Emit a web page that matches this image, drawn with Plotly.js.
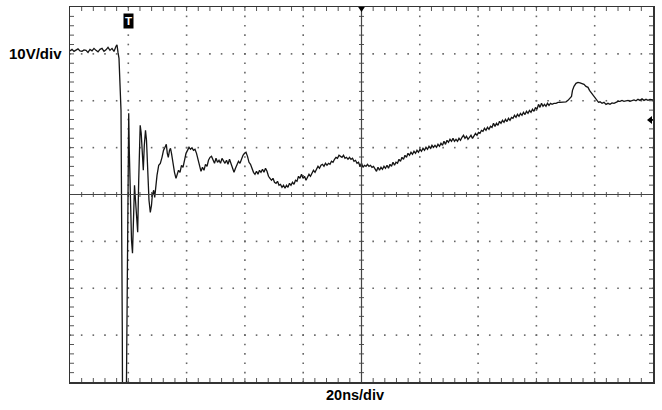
<!DOCTYPE html>
<html><head><meta charset="utf-8">
<script src="https://cdn.plot.ly/plotly-3.0.1.min.js"></script>
<style>html,body{margin:0;padding:0;background:#fff}#chart{width:662px;height:410px}</style>
</head><body><div id="chart"></div>
<script>
// Oscilloscope trace: time in ns, voltage in V
const preT = [0, 0.69, 1.37, 2.06, 2.74, 3.43, 4.12, 4.80, 5.49, 6.17, 6.86, 7.55, 8.23, 8.92, 9.61, 10.29, 10.98, 11.66, 12.35, 13.04, 13.72, 14.41, 15.09, 15.78, 16.12, 16.47, 16.81];
const preV = [30.64, 30.96, 30.53, 30.75, 31.07, 30.64, 30.53, 30.85, 30.75, 30.32, 30.96, 30.64, 31.17, 30.75, 30.43, 30.96, 31.17, 30.53, 30.85, 31.39, 30.75, 31.17, 30.53, 31.60, 31.92, 30.32, 29.04];

const ringT = [17.50, 17.67, 17.94, 18.11, 19.04, 19.38, 19.66, 19.97, 20.14, 20.34, 20.69, 21.10, 21.44, 21.72, 22.13, 22.47, 22.88, 23.22, 23.57, 23.84, 24.08, 24.43, 24.80, 25.15, 25.49, 25.90, 26.24, 26.66, 27.10, 27.55, 27.96, 28.23, 28.71, 29.06, 29.33, 29.85, 30.43, 30.98, 31.56, 32.08, 32.59, 33.04, 33.38, 33.72, 34.13, 34.48, 34.82, 35.33, 35.85, 36.36, 36.81, 37.22, 37.74, 38.25, 38.77, 39.28, 39.80];
const ringV = [17.95, 3.03, -28.96, -60.9, -60.9, -39.6, -11.9, 11.56, 17.31, 9.42, -3.37, -9.77, -12.54, -4.43, 1.96, -1.24, -6.57, -8.06, 3.03, 11.56, 14.75, 13.05, 9.42, 5.16, 10.49, 13.69, 11.56, 4.09, -1.24, -3.80, -2.30, -0.17, 0.90, -0.60, 1.75, 4.09, 6.23, 6.65, 7.93, 9.42, 10.06, 10.70, 8.78, 7.93, 9.42, 9.85, 8.78, 6.65, 4.73, 3.45, 4.31, 5.16, 4.73, 6.23, 5.80, 7.29, 8.78];

const settleT = [40.31, 40.83, 41.34, 41.85, 42.37, 42.88, 43.40, 43.91, 44.43, 44.94, 45.45, 45.97, 46.48, 47.00, 47.51, 48.03, 48.54, 49.06, 49.57, 50.09, 50.60, 51.11, 51.63, 52.14, 52.66, 53.17, 53.69, 54.20, 54.72, 55.23, 55.75, 56.26, 56.77, 57.29, 57.80, 58.32, 58.83, 59.35, 59.86, 60.38, 60.89, 61.41, 61.92, 62.44, 62.95, 63.46, 63.98, 64.49, 65.01, 65.52, 66.04, 66.55, 67.07, 67.58, 68.10, 68.61, 69.12, 69.64, 70.15, 70.67, 71.18, 71.70, 72.21, 72.73, 73.24, 73.76, 74.27, 74.78, 75.30, 75.81, 76.33, 76.84, 77.36, 77.87, 78.39, 78.90, 79.42];
const settleV = [9.42, 10.06, 9.64, 9.96, 9.42, 9.64, 8.78, 7.29, 6.01, 4.95, 5.80, 5.16, 6.44, 6.01, 7.29, 7.93, 8.14, 7.29, 6.65, 7.72, 6.87, 7.29, 6.65, 7.72, 7.08, 6.65, 7.29, 6.44, 7.51, 6.65, 5.80, 4.73, 5.59, 6.23, 7.08, 6.65, 7.72, 8.36, 8.78, 9.00, 8.14, 6.87, 6.44, 5.37, 4.73, 4.31, 4.95, 4.31, 5.16, 4.73, 5.37, 4.73, 5.59, 4.95, 3.88, 3.45, 3.03, 3.45, 2.60, 2.39, 2.81, 1.96, 2.17, 1.54, 1.96, 1.32, 1.96, 1.54, 2.39, 1.96, 2.60, 2.17, 3.03, 2.81, 3.88, 3.45, 4.31];

const rampT1 = [79.93, 80.45, 80.96, 81.47, 81.99, 82.50, 83.02, 83.53, 84.05, 84.56, 85.08, 85.59, 86.11, 86.62, 87.13, 87.65, 88.16, 88.68, 89.19, 89.71, 90.22, 90.74, 91.25, 91.77, 92.28, 92.80, 93.31, 93.82, 94.34, 94.85, 95.37, 95.88, 96.40, 96.91, 97.43, 97.94, 98.46, 98.97, 99.48, 100.00, 100.51, 101.03, 101.54, 102.06, 102.57, 103.09, 103.60, 104.12, 104.63, 105.15, 105.66, 106.17, 106.69, 107.20, 107.72, 108.23, 108.75, 109.26, 109.78, 110.29, 110.81, 111.32, 111.83, 112.35, 112.86, 113.38, 113.89, 114.41, 114.92, 115.44, 115.95, 116.47, 116.98, 117.49, 118.01, 118.52, 119.04, 119.55, 120.07, 120.58, 121.10, 121.61, 122.13];
const rampV1 = [3.45, 3.88, 3.03, 3.88, 4.31, 3.88, 4.73, 5.16, 4.73, 5.59, 6.01, 5.59, 6.23, 6.44, 6.01, 6.65, 6.23, 6.65, 6.44, 7.08, 6.87, 7.51, 7.93, 7.72, 8.36, 8.14, 7.93, 8.36, 7.72, 7.93, 7.51, 7.93, 7.51, 7.72, 7.08, 7.29, 6.65, 6.87, 6.01, 6.65, 5.80, 6.23, 6.01, 6.44, 6.01, 6.23, 5.80, 6.01, 5.37, 4.95, 5.80, 5.16, 5.80, 5.37, 6.01, 5.59, 6.23, 5.59, 6.44, 6.01, 6.87, 6.23, 6.87, 6.65, 7.51, 7.08, 7.93, 7.51, 8.36, 7.93, 8.78, 8.36, 9.00, 8.57, 9.21, 8.78, 9.42, 9.00, 9.64, 9.21, 9.85, 9.42, 10.06];

const rampT2 = [122.64, 123.16, 123.67, 124.18, 124.70, 125.21, 125.73, 126.24, 126.76, 127.27, 127.79, 128.30, 128.82, 129.33, 129.84, 130.36, 130.87, 131.39, 131.90, 132.42, 132.93, 133.45, 133.96, 134.48, 134.99, 135.50, 136.02, 136.53, 137.05, 137.56, 138.08, 138.59, 139.11, 139.62, 140.14, 140.65, 141.16, 141.68, 142.19, 142.71, 143.22, 143.74, 144.25, 144.77, 145.28, 145.80, 146.31, 146.83, 147.34, 147.85, 148.37, 148.88, 149.40, 149.91, 150.43, 150.94, 151.46, 151.97, 152.49, 153.00, 153.51, 154.03, 154.54, 155.06, 155.57, 156.09, 156.60, 157.12, 157.63, 158.15, 158.66, 159.18, 159.69, 160.20, 160.72, 161.23, 161.75, 162.26, 162.78, 163.29, 163.81, 164.32, 164.84, 165.35];
const rampV2 = [9.64, 10.28, 9.85, 10.49, 10.06, 10.49, 10.06, 10.70, 10.28, 10.92, 10.49, 11.34, 10.70, 11.56, 11.13, 11.77, 11.34, 11.98, 11.34, 11.77, 11.34, 11.98, 11.56, 12.20, 12.62, 11.98, 12.41, 11.77, 12.20, 12.62, 11.98, 12.62, 13.05, 12.62, 13.26, 13.05, 13.69, 13.48, 14.12, 13.69, 14.33, 13.90, 14.54, 14.29, 15.18, 14.54, 15.18, 14.75, 15.61, 15.18, 15.82, 15.39, 16.03, 15.57, 16.25, 15.82, 16.46, 16.25, 16.89, 16.46, 17.10, 16.67, 17.31, 16.89, 17.53, 17.06, 17.74, 17.31, 17.95, 17.53, 18.17, 17.74, 18.59, 18.17, 19.23, 18.59, 19.45, 18.81, 19.23, 18.81, 19.45, 19.02, 19.45, 19.23];

const tailT = [166.04, 166.72, 167.41, 168.09, 168.78, 169.47, 170.15, 170.84, 171.53, 172.04, 172.38, 172.90, 173.58, 174.27, 174.96, 175.64, 176.33, 177.01, 177.70, 178.22, 178.73, 179.25, 179.76, 180.28, 180.79, 181.30, 181.82, 182.51, 183.19, 183.88, 184.56, 185.25, 185.94, 186.62, 187.31, 187.99, 188.68, 189.37, 190.05, 190.74, 191.42, 192.11, 192.80, 193.48, 194.17, 194.85, 195.54, 196.23, 196.91, 197.60, 198.28, 198.97, 200.0];
const tailV = [19.45, 19.45, 19.66, 19.66, 19.66, 19.77, 19.77, 20.08, 20.51, 20.94, 22.22, 23.07, 23.71, 23.92, 23.82, 23.71, 23.50, 23.07, 22.86, 22.22, 21.79, 21.36, 20.72, 20.30, 19.87, 19.66, 19.77, 19.45, 19.66, 19.23, 19.45, 19.23, 19.55, 19.45, 19.66, 19.87, 19.87, 20.08, 19.87, 19.98, 20.08, 19.87, 20.08, 20.19, 19.98, 20.30, 20.08, 20.40, 20.08, 20.30, 20.08, 20.30, 20.19];

const voltLabel = '10V/div';
const timeLabel = '20ns/div';
const triggerLabel = 'T';
const triggerTime = 20;     // ns
const levelMarkV = 15.9;    // V (right-edge level arrow)

// graticule settings
const xRange = [0, 200], yRange = [-40, 40];
const xDiv = 20, yDiv = 10, nX = 10, nY = 8, sub = 5;

const W = 662, H = 410, M = {l: 70, r: 9, t: 7, b: 28};
const pw = W - M.l - M.r, ph = H - M.t - M.b;
const pxPerX = pw / (xRange[1] - xRange[0]);
const pxPerY = ph / (yRange[1] - yRange[0]);

const t = [].concat(preT, ringT, settleT, rampT1, rampT2, tailT);
const v = [].concat(preV, ringV, settleV, rampV1, rampV2, tailV);

// grid dots along major lines
const gx = [], gy = [];
const xs = xDiv / sub, ys = yDiv / sub;
for (let i = 1; i < nX; i++) {
  if (i === nX / 2) continue;
  for (let k = 0; k <= nY * sub; k++) { gx.push(xRange[0] + i * xDiv); gy.push(yRange[0] + k * ys); }
}
for (let j = 1; j < nY; j++) {
  if (j === nY / 2) continue;
  for (let k = 0; k <= nX * sub; k++) { gx.push(xRange[0] + k * xs); gy.push(yRange[0] + j * yDiv); }
}
// tick marks on border and center axes
const tx = [], ty = [];
const tl = 4, cl = 2.5;
const xc = (xRange[0] + xRange[1]) / 2, yc = (yRange[0] + yRange[1]) / 2;
for (let k = 1; k < nX * sub; k++) {
  const x = xRange[0] + k * xs;
  tx.push(x, x, null, x, x, null, x, x, null);
  ty.push(yRange[1], yRange[1] - tl / pxPerY, null, yRange[0], yRange[0] + tl / pxPerY, null, yc - cl / pxPerY, yc + cl / pxPerY, null);
}
for (let k = 1; k < nY * sub; k++) {
  const y = yRange[0] + k * ys;
  tx.push(xRange[0], xRange[0] + tl / pxPerX, null, xRange[1], xRange[1] - tl / pxPerX, null, xc - cl / pxPerX, xc + cl / pxPerX, null);
  ty.push(y, y, null, y, y, null, y, y, null);
}

const traces = [
  {x: gx, y: gy, mode: 'markers', type: 'scatter', hoverinfo: 'skip',
   marker: {symbol: 'square', size: 1.6, color: '#666', line: {width: 0}}},
  {x: tx, y: ty, mode: 'lines', type: 'scatter', hoverinfo: 'skip', connectgaps: false,
   line: {color: '#555', width: 1}},
  {x: t, y: v, mode: 'lines', type: 'scatter', line: {color: '#151515', width: 1.3}}
];

const trigTipY = yRange[1] - 5 / pxPerY, trigBaseY = yRange[1] + 1 / pxPerY, trigHalf = 4 / pxPerX;
const arrTipX = xRange[1] - 6 / pxPerX, arrBaseX = xRange[1] - 1 / pxPerX, arrHalf = 4 / pxPerY;

const layout = {
  width: W, height: H, margin: M, showlegend: false,
  paper_bgcolor: '#fff', plot_bgcolor: '#fff',
  xaxis: {range: xRange, showgrid: false, zeroline: false, showticklabels: false, ticks: '',
          showline: true, mirror: true, linecolor: '#333', linewidth: 1.5, fixedrange: true},
  yaxis: {range: yRange, showgrid: false, zeroline: false, showticklabels: false, ticks: '',
          showline: true, mirror: true, linecolor: '#333', linewidth: 1.5, fixedrange: true},
  shapes: [
    {type: 'line', xref: 'x', yref: 'y', x0: xRange[0], x1: xRange[1], y0: yc, y1: yc, line: {color: '#444', width: 1.2}},
    {type: 'line', xref: 'x', yref: 'y', x0: xc, x1: xc, y0: yRange[0], y1: yRange[1], line: {color: '#444', width: 1.2}},
    {type: 'path', xref: 'x', yref: 'y', fillcolor: '#000', line: {width: 0},
     path: `M ${xc - trigHalf} ${trigBaseY} L ${xc + trigHalf} ${trigBaseY} L ${xc} ${trigTipY} Z`},
    {type: 'path', xref: 'x', yref: 'y', fillcolor: '#000', line: {width: 0},
     path: `M ${arrTipX} ${levelMarkV} L ${arrBaseX} ${levelMarkV + arrHalf} L ${arrBaseX} ${levelMarkV - arrHalf} Z`},
    {type: 'line', xref: 'x', yref: 'y', x0: arrBaseX, x1: xRange[1], y0: levelMarkV, y1: levelMarkV, line: {color: '#000', width: 1.5}}
  ],
  annotations: [
    {text: '<b>' + voltLabel + '</b>', xref: 'paper', yref: 'paper', x: (63.5 - M.l) / pw, y: (H - M.b - 53) / ph,
     xanchor: 'right', yanchor: 'middle', showarrow: false,
     font: {family: 'Liberation Sans, Arial, sans-serif', size: 15, color: '#000'}},
    {text: '<b>' + timeLabel + '</b>', xref: 'paper', yref: 'paper', x: (355 - M.l) / pw, y: (H - M.b - 395) / ph,
     xanchor: 'center', yanchor: 'middle', showarrow: false,
     font: {family: 'Liberation Sans, Arial, sans-serif', size: 14.5, color: '#000'}},
    {text: '<b>' + triggerLabel + '</b>', xref: 'x', yref: 'paper', x: triggerTime, y: (H - M.b - 20.5) / ph,
     xanchor: 'center', yanchor: 'middle', showarrow: false, bgcolor: '#000', borderpad: 1,
     font: {family: 'Liberation Sans, Arial, sans-serif', size: 11.5, color: '#fff'}}
  ]
};

Plotly.newPlot('chart', traces, layout, {staticPlot: true, displayModeBar: false});
</script>
</body></html>
